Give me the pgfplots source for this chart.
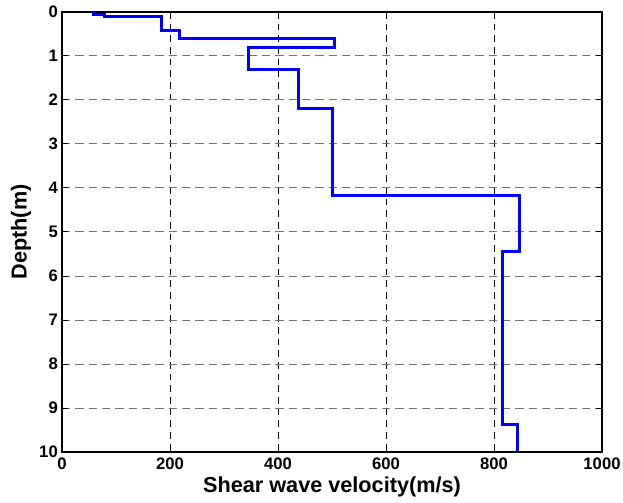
\documentclass[border=0pt]{standalone}
\usepackage{pgfplots}
\pgfplotsset{compat=1.18}
\usepackage{fontspec}
\setmainfont{Liberation Sans}
\begin{document}
\begin{tikzpicture}
\begin{axis}[
    scale only axis, width=324pt, height=264pt,
    xmin=0, xmax=1000, ymin=0, ymax=10,
    y dir=reverse,
    xtick={0,200,...,1000}, ytick={0,1,...,10},
    xticklabels={\textbf{0},\textbf{200},\textbf{400},\textbf{600},\textbf{800},\textbf{1000}},
    yticklabels={\textbf{0},\textbf{1},\textbf{2},\textbf{3},\textbf{4},\textbf{5},\textbf{6},\textbf{7},\textbf{8},\textbf{9},\textbf{10}},
    tick align=inside, major tick length=3.6pt,
    xtick pos=both, ytick pos=both,
    axis line style={line width=0.9pt},
    every tick/.style={black, line width=0.6pt},
    grid=major,
    x grid style={dash pattern=on 4pt off 3pt, black, line width=0.5pt},
    y grid style={dash pattern=on 5pt off 3pt, black!55, line width=0.6pt},
    ticklabel style={font=\fontsize{10}{12}\selectfont\bfseries},
    xticklabel style={inner xsep=0pt},
    yticklabel style={xshift=1pt},
    label style={font=\fontsize{13}{15}\selectfont\bfseries},
    xlabel={Shear wave velocity(m/s)},
    ylabel={Depth(m)},
    xlabel style={yshift=2.5pt},
    ylabel style={yshift=-2pt},
]
\addplot[blue, line width=1.8pt, line join=miter] coordinates {
    (58,0) (58,0.05) (78,0.05) (78,0.1) (185,0.1) (185,0.42)
    (218,0.42) (218,0.6) (504,0.6) (504,0.8) (346,0.8) (346,1.3)
    (438,1.3) (438,2.2) (500,2.2) (500,4.17) (848,4.17) (848,5.45)
    (815,5.45) (815,9.37) (843,9.37) (843,10)};
\end{axis}
\path ([xshift=-37.2pt,yshift=-28.8pt]current axis.south west)
    rectangle ([xshift=12.6pt,yshift=7.2pt]current axis.north east);
\end{tikzpicture}
\end{document}
